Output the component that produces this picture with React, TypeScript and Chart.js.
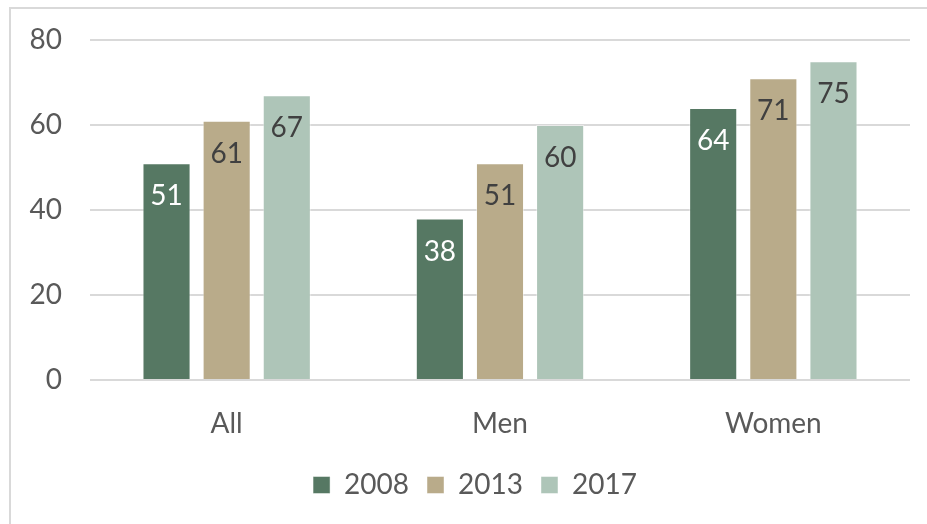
import React, { useEffect, useRef } from "react";
import { Chart, registerables } from "chart.js";

Chart.register(...registerables);

const categories = ["All", "Men", "Women"];
const years = ["2008", "2013", "2017"];
const values2008 = [51, 38, 64];
const values2013 = [61, 51, 71];
const values2017 = [67, 60, 75];
const yTicks = [0, 20, 40, 60, 80];

const colors = ["#567863", "#b9ab8a", "#aec5b8"];
const labelColors = ["#ffffff", "#404040", "#404040"];
const FONT = "Lato, 'Open Sans', sans-serif";
const FS = 28;

const dataLabelPlugin = {
  id: "dataLabels",
  afterDatasetsDraw(chart: any) {
    const ctx = chart.ctx;
    ctx.save();
    ctx.font = `${FS}px ${FONT}`;
    ctx.textAlign = "center";
    ctx.textBaseline = "middle";
    chart.data.datasets.forEach((ds: any, i: number) => {
      const meta = chart.getDatasetMeta(i);
      meta.data.forEach((bar: any, j: number) => {
        ctx.fillStyle = labelColors[i];
        ctx.fillText(String(ds.data[j]), bar.x, bar.y + 33);
      });
    });
    ctx.restore();
  },
};

const legendShiftPlugin = {
  id: "legendShift",
  afterLayout(chart: any) {
    if (chart.legend) {
      chart.legend.left += 20;
      chart.legend.right += 20;
    }
  },
};

export default function App() {
  const ref = useRef<HTMLCanvasElement | null>(null);
  useEffect(() => {
    if (!ref.current) return;
    const chart = new Chart(ref.current, {
      type: "bar",
      data: {
        labels: categories,
        datasets: [values2008, values2013, values2017].map((d, i) => ({
          label: years[i],
          data: d,
          backgroundColor: colors[i],
          borderColor: "rgba(255,255,255,0.45)",
          borderWidth: 1,
          barPercentage: 0.8,
          categoryPercentage: 0.66,
        })),
      },
      options: {
        animation: false,
        responsive: false,
        maintainAspectRatio: false,
        layout: { padding: { left: 0, right: 17, top: 40, bottom: 15 } },
        plugins: {
          tooltip: { enabled: false },
          legend: {
            position: "bottom",
            labels: {
              boxWidth: 17,
              boxHeight: 17,
              padding: 18,
              color: "#595959",
              font: { family: FONT, size: FS },
            },
          },
        },
        scales: {
          x: {
            grid: { display: false, drawTicks: false },
            border: { display: false },
            ticks: { color: "#595959", padding: 27, font: { family: FONT, size: FS } },
            afterFit(scale: any) {
              scale.height = 73;
            },
          },
          y: {
            min: 0,
            max: 80,
            afterBuildTicks(scale: any) {
              scale.ticks = yTicks.map((v) => ({ value: v }));
            },
            grid: { color: "#d9d9d9", lineWidth: 2, drawTicks: false },
            border: { display: false },
            ticks: { color: "#595959", padding: 28, font: { family: FONT, size: FS } },
            afterFit(scale: any) {
              scale.width = 90;
              scale.paddingTop = 0;
              scale.paddingBottom = 0;
            },
          },
        },
      },
      plugins: [dataLabelPlugin, legendShiftPlugin],
    });
    return () => chart.destroy();
  }, []);

  return (
    <div style={{ position: "fixed", left: 0, top: 0, width: 927, height: 524, background: "#fff", overflow: "hidden" }}>
      <div
        style={{
          position: "absolute",
          left: 9,
          top: 7,
          width: 1000,
          height: 600,
          border: "2px solid #d9d9d9",
          boxSizing: "border-box",
        }}
      />
      <canvas ref={ref} width={927} height={524} style={{ position: "absolute", left: 0, top: 0 }} />
    </div>
  );
}
